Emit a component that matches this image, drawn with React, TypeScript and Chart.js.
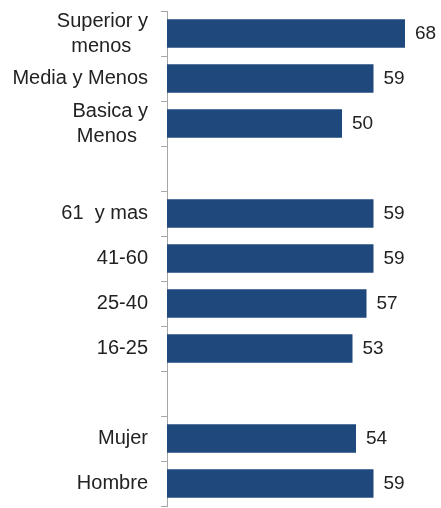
import React, { useEffect, useRef } from "react";
import { Chart, registerables } from "chart.js";

Chart.register(...registerables);

const categories: (string | string[])[] = [
  ["Superior y", "menos   "],
  "Media y Menos",
  ["Basica y", "Menos  "],
  "",
  "61  y mas",
  "41-60",
  "25-40",
  "16-25",
  "",
  "Mujer",
  "Hombre",
];
const values: (number | null)[] = [68, 59, 50, null, 59, 59, 57, 53, null, 54, 59];

const FONT = "'Liberation Sans', Arial, sans-serif";
const TEXT = "#222222";
const BAR = "#1f487c";

const valueLabels = {
  id: "valueLabels",
  afterDatasetsDraw(chart: any) {
    const ctx = chart.ctx;
    const meta = chart.getDatasetMeta(0);
    ctx.save();
    ctx.font = `19px ${FONT}`;
    ctx.fillStyle = TEXT;
    ctx.textAlign = "left";
    ctx.textBaseline = "middle";
    meta.data.forEach((el: any, i: number) => {
      const v = values[i];
      if (v == null) return;
      ctx.fillText(String(v), el.x + 10, el.y);
    });
    ctx.restore();
  },
};

export default function App() {
  const ref = useRef<HTMLCanvasElement>(null);
  useEffect(() => {
    if (!ref.current) return;
    const chart = new Chart(ref.current, {
      type: "bar",
      data: {
        labels: categories,
        datasets: [
          {
            data: values,
            backgroundColor: BAR,
            borderWidth: 0,
            categoryPercentage: 1,
            barPercentage: 0.63,
          },
        ],
      },
      options: {
        indexAxis: "y",
        animation: false,
        responsive: false,
        maintainAspectRatio: false,
        layout: { padding: { top: 11, bottom: 2, right: 1, left: 0 } },
        plugins: {
          legend: { display: false },
          tooltip: { enabled: false },
        },
        scales: {
          x: { display: false, min: 0, max: 78 },
          y: {
            afterFit: (scale: any) => {
              scale.width = 167;
              scale.paddingTop = 0;
              scale.paddingBottom = 0;
            },
            grid: {
              display: true,
              drawOnChartArea: false,
              drawTicks: true,
              tickLength: 6,
              color: "#a6a6a6",
              offset: true,
            },
            border: { display: true, color: "#a6a6a6", width: 1 },
            ticks: {
              padding: 13,
              color: TEXT,
              font: { family: FONT, size: 20, lineHeight: 1.25 },
              autoSkip: false,
            },
          },
        },
      },
      plugins: [valueLabels],
    });
    return () => chart.destroy();
  }, []);
  return (
    <div style={{ position: "fixed", left: 0, top: 0, width: 441, height: 508, background: "#fff" }}>
      <canvas ref={ref} width={441} height={508} style={{ display: "block" }} />
    </div>
  );
}
